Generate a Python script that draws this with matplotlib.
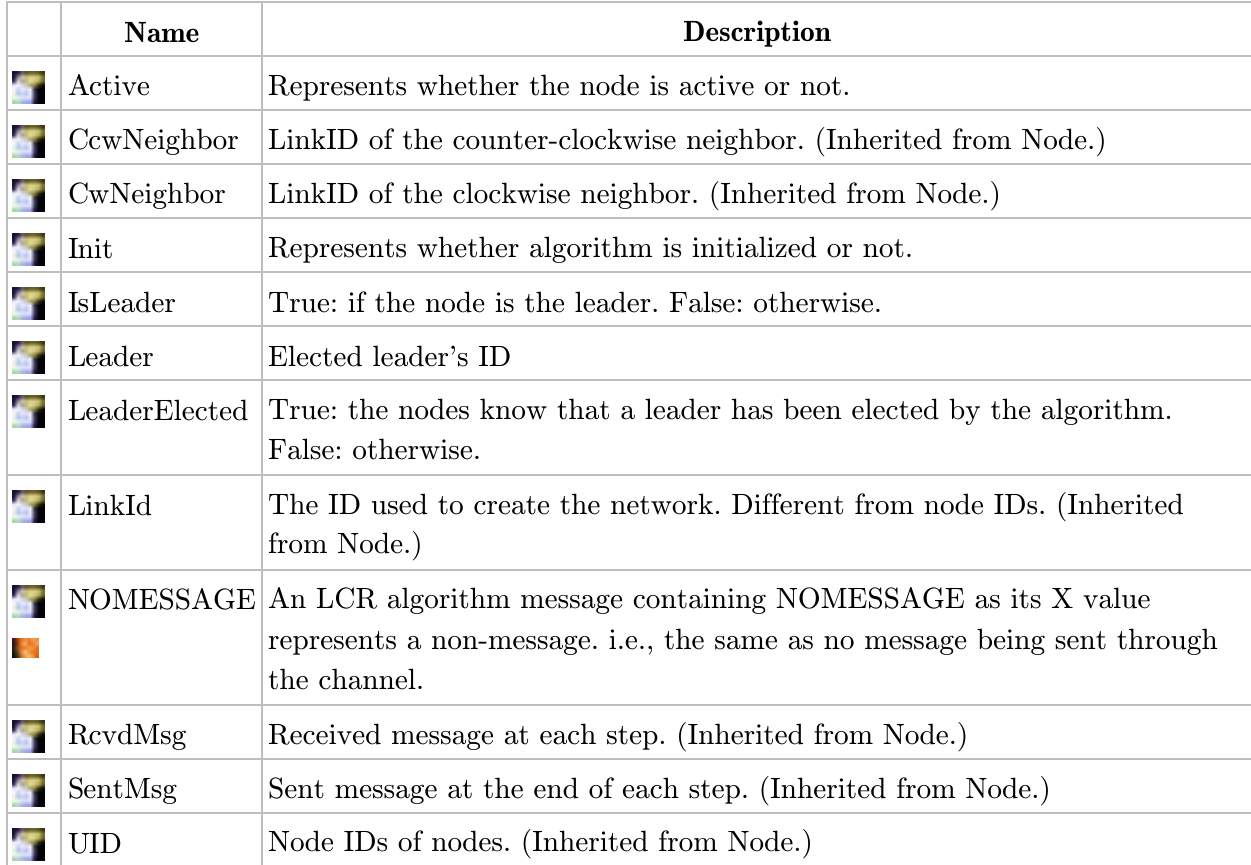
#!/usr/bin/env python3
import numpy as np
import matplotlib
matplotlib.use('Agg')
import matplotlib.pyplot as plt
from matplotlib.colors import to_rgb

plt.rcParams['text.hinting'] = 'no_hinting'
plt.rcParams['text.hinting_factor'] = 1

W, H = 1251, 865

names = ['Active', 'CcwNeighbor', 'CwNeighbor', 'Init', 'IsLeader', 'Leader',
         'LeaderElected', 'LinkId', 'NOMESSAGE', 'RcvdMsg', 'SentMsg', 'UID']
descriptions = [
    ['Represents whether the node is active or not.'],
    ['LinkID of the counter-clockwise neighbor. (Inherited from Node.)'],
    ['LinkID of the clockwise neighbor. (Inherited from Node.)'],
    ['Represents whether algorithm is initialized or not.'],
    ['True: if the node is the leader. False: otherwise.'],
    ["Elected leader's ID"],
    ['True: the nodes know that a leader has been elected by the algorithm.', 'False: otherwise.'],
    ['The ID used to create the network. Different from node IDs. (Inherited', 'from Node.)'],
    ['An LCR algorithm message containing NOMESSAGE as its X value',
     'represents a non-message. i.e., the same as no message being sent through',
     'the channel.'],
    ['Received message at each step. (Inherited from Node.)'],
    ['Sent message at the end of each step. (Inherited from Node.)'],
    ['Node IDs of nodes. (Inherited from Node.)'],
]
headers = ['Name', 'Description']
row_lines = [2, 55.7, 109.7, 163.7, 217.7, 271.7, 325.7, 379.7, 474.7, 569.7, 704.7, 758.7, 812.5]
col_lines = [7, 61, 262]

# property icon, low-res colour grid
prop_icon = [
    ['#14102c', '#2a1a48', '#6a5a70', '#5c5424', '#6a6228', '#6a6228', '#5c5420', '#3a3410'],
    ['#1c1438', '#8a8494', '#c8c4b8', '#c8c078', '#d8d088', '#d8d088', '#c8c070', '#7c7430'],
    ['#3a2c58', '#d8d4e0', '#a8a498', '#c4bc70', '#e4dc9c', '#d0c880', '#b4ac58', '#6c6424'],
    ['#e8e8f4', '#f4f4fa', '#d8d8e4', '#c8c8d4', '#a8a460', '#8c8440', '#343010', '#0c0c08'],
    ['#f8f8ff', '#c8d0f0', '#e8ecff', '#d8dcf8', '#f0f0ff', '#303040', '#040408', '#040408'],
    ['#e8f4e8', '#b4c4e4', '#ccd4f4', '#b8c4ec', '#e8e8ff', '#404060', '#040408', '#040408'],
    ['#f0fae8', '#e8f0f4', '#dce4fc', '#dce0fc', '#e0e0ff', '#383858', '#040408', '#040408'],
    ['#a8d4a8', '#b4d8c0', '#a8b8e0', '#a0a8e0', '#a0a0e8', '#201c40', '#04040c', '#04040c'],
]
# static member icon
static_icon = [
    ['#401c10', '#a83c10', '#e87820', '#f09040', '#e88030', '#f4a050', '#f09040'],
    ['#2c1410', '#804018', '#f08830', '#f8b060', '#e86c18', '#f08030', '#f4a060'],
    ['#401c14', '#9c5020', '#e87020', '#f07820', '#f4a050', '#f09040', '#e87020'],
    ['#182008', '#605020', '#e89040', '#f8c080', '#f09030', '#e87818', '#e86c18'],
    ['#0c1404', '#483818', '#c87830', '#f0a050', '#f8b870', '#f09040', '#d86010'],
]

fig = plt.figure(figsize=(W / 100, H / 100), dpi=100)
ax = fig.add_axes([0, 0, 1, 1])

for y in row_lines:
    ax.plot([6, W], [y, y], color='#bebebe', lw=1.44, solid_capstyle='butt')
for x in col_lines:
    ax.plot([x, x], [1, H], color='#bebebe', lw=1.44, solid_capstyle='butt')

ax.text(162, 41.5, headers[0], family='cmb10', fontsize=21.1, ha='center', va='baseline')
ax.text(756.5, 41.5, headers[1], family='cmb10', fontsize=21.1, ha='center', va='baseline')


def draw_icon(grid, x0, y0, w, h):
    img = np.array([[to_rgb(c) for c in row] for row in grid])
    ax.imshow(img, extent=[x0, x0 + w, y0 + h, y0], interpolation='bilinear',
              aspect='auto', zorder=2)


tops = row_lines[1:]
for i, name in enumerate(names):
    top = tops[i]
    ax.text(67.5, top + 39.5, name, family='cmr10', fontsize=21.1, va='baseline')
    for j, line in enumerate(descriptions[i]):
        ax.text(268, top + 39.5 + j * 39.7, line, family='cmr10', fontsize=21.1, va='baseline')
    draw_icon(prop_icon, 12, top + 15.3, 33, 33)
    if name == 'NOMESSAGE':
        draw_icon(static_icon, 12, top + 68, 27, 20)

ax.set_xlim(0, W)
ax.set_ylim(H, 0)
ax.axis('off')

fig.savefig('out.png', dpi=100)
